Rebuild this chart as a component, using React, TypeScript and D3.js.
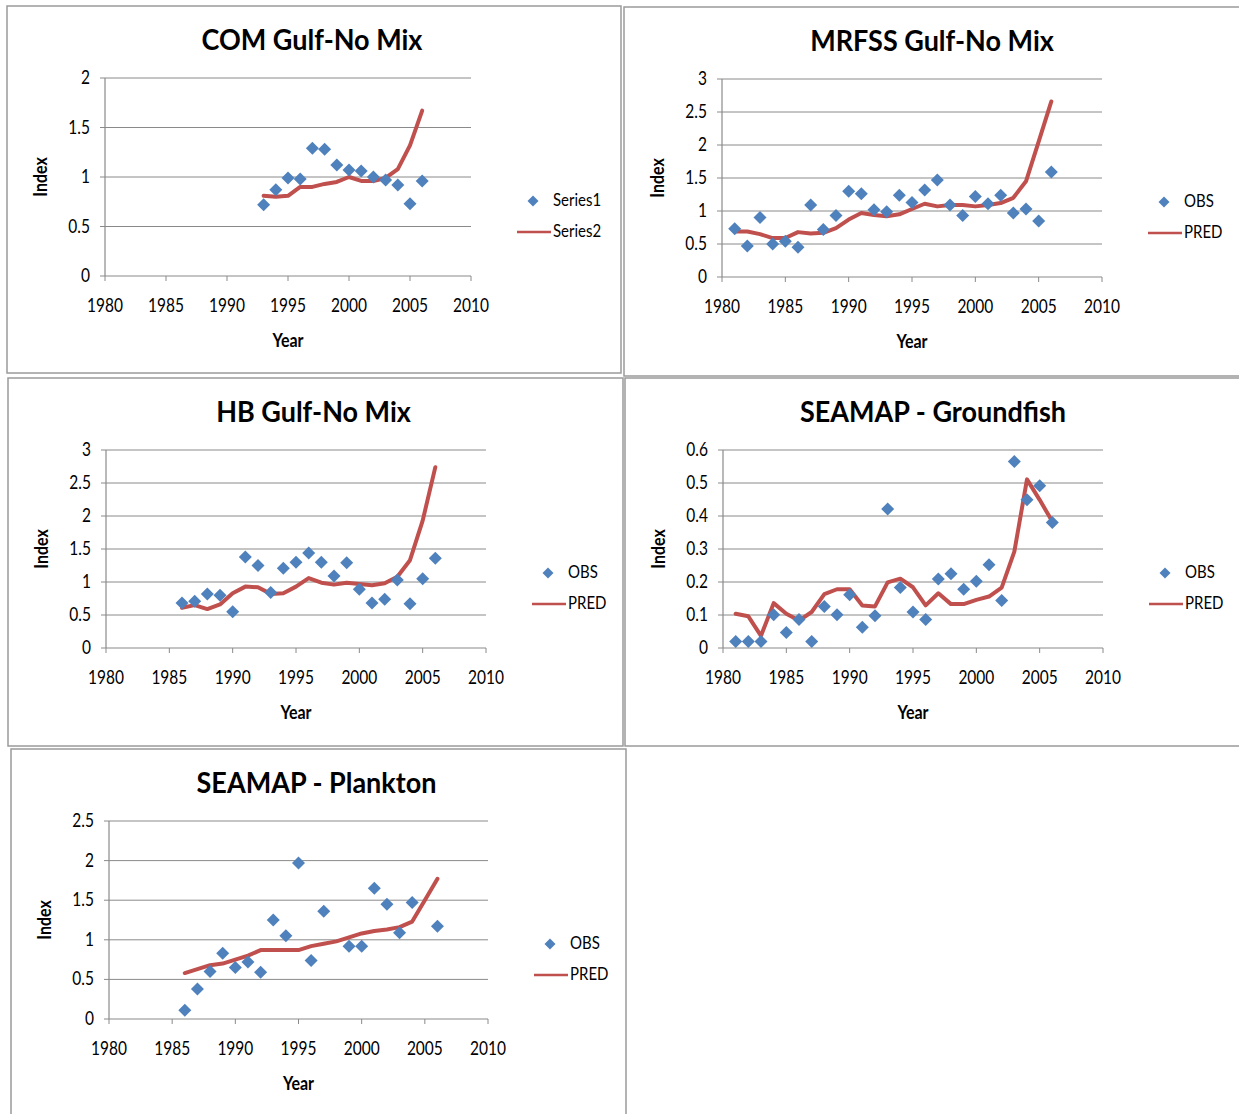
import React from "react";
import * as d3 from "d3";

// ---- data ----
const xTicks = [1980, 1985, 1990, 1995, 2000, 2005, 2010];

const comYears = [1993, 1994, 1995, 1996, 1997, 1998, 1999, 2000, 2001, 2002, 2003, 2004, 2005, 2006];
const comObs = [0.72, 0.87, 0.99, 0.98, 1.29, 1.28, 1.12, 1.07, 1.06, 1.0, 0.97, 0.92, 0.73, 0.96];
const comPred = [0.81, 0.8, 0.81, 0.9, 0.9, 0.93, 0.95, 1.0, 0.96, 0.96, 0.99, 1.08, 1.32, 1.67];
const comTicks = [0, 0.5, 1, 1.5, 2];

const mrfssYears = [1981, 1982, 1983, 1984, 1985, 1986, 1987, 1988, 1989, 1990, 1991, 1992, 1993, 1994, 1995, 1996, 1997, 1998, 1999, 2000, 2001, 2002, 2003, 2004, 2005, 2006];
const mrfssObs = [0.73, 0.47, 0.9, 0.5, 0.54, 0.45, 1.09, 0.72, 0.93, 1.3, 1.26, 1.02, 0.99, 1.24, 1.13, 1.32, 1.47, 1.09, 0.93, 1.22, 1.11, 1.24, 0.97, 1.03, 0.85, 1.59];
const mrfssPred = [0.69, 0.69, 0.65, 0.59, 0.59, 0.68, 0.66, 0.67, 0.74, 0.87, 0.97, 0.94, 0.92, 0.95, 1.03, 1.11, 1.07, 1.09, 1.09, 1.07, 1.09, 1.12, 1.2, 1.45, 2.05, 2.66];
const mrfssTicks = [0, 0.5, 1, 1.5, 2, 2.5, 3];

const hbYears = [1986, 1987, 1988, 1989, 1990, 1991, 1992, 1993, 1994, 1995, 1996, 1997, 1998, 1999, 2000, 2001, 2002, 2003, 2004, 2005, 2006];
const hbObs = [0.68, 0.71, 0.82, 0.8, 0.55, 1.38, 1.25, 0.84, 1.21, 1.3, 1.44, 1.3, 1.09, 1.29, 0.89, 0.68, 0.74, 1.03, 0.67, 1.05, 1.36];
const hbPred = [0.61, 0.65, 0.59, 0.66, 0.83, 0.93, 0.92, 0.82, 0.83, 0.93, 1.06, 0.99, 0.96, 0.99, 0.97, 0.95, 0.98, 1.08, 1.33, 1.93, 2.74];
const hbTicks = [0, 0.5, 1, 1.5, 2, 2.5, 3];

const groundYears = [1981, 1982, 1983, 1984, 1985, 1986, 1987, 1988, 1989, 1990, 1991, 1992, 1993, 1994, 1995, 1996, 1997, 1998, 1999, 2000, 2001, 2002, 2003, 2004, 2005, 2006];
const groundObs = [0.02, 0.02, 0.02, 0.101, 0.047, 0.086, 0.02, 0.126, 0.101, 0.161, 0.063, 0.098, 0.421, 0.183, 0.109, 0.086, 0.209, 0.225, 0.178, 0.202, 0.252, 0.144, 0.565, 0.449, 0.492, 0.38];
const groundPred = [0.104, 0.096, 0.037, 0.136, 0.104, 0.083, 0.109, 0.163, 0.178, 0.178, 0.129, 0.126, 0.199, 0.21, 0.184, 0.129, 0.166, 0.133, 0.133, 0.146, 0.156, 0.183, 0.292, 0.511, 0.449, 0.383];
const groundTicks = [0, 0.1, 0.2, 0.3, 0.4, 0.5, 0.6];

const planktonObsYears = [1986, 1987, 1988, 1989, 1990, 1991, 1992, 1993, 1994, 1995, 1996, 1997, 1999, 2000, 2001, 2002, 2003, 2004, 2006];
const planktonObs = [0.11, 0.38, 0.6, 0.83, 0.65, 0.72, 0.59, 1.25, 1.05, 1.97, 0.74, 1.36, 0.92, 0.92, 1.65, 1.45, 1.09, 1.47, 1.17];
const planktonPredYears = [1986, 1987, 1988, 1989, 1990, 1991, 1992, 1993, 1994, 1995, 1996, 1997, 1998, 1999, 2000, 2001, 2002, 2003, 2004, 2005, 2006];
const planktonPred = [0.58, 0.63, 0.68, 0.7, 0.75, 0.8, 0.87, 0.87, 0.87, 0.87, 0.92, 0.95, 0.98, 1.03, 1.08, 1.11, 1.13, 1.16, 1.23, 1.5, 1.77];
const planktonTicks = [0, 0.5, 1, 1.5, 2, 2.5];

// ---- layout ----
const FONT = "Lato, 'Open Sans', sans-serif";
const BLUE = "#4f81bd";
const RED = "#c0504d";
const GRID = "#8a8a8a";
const STRETCH = 1.18; // the reference text looks a little tall

interface PanelDef {
  title: string;
  x: number;
  y: number;
  w: number;
  h: number;
  plotW: number;
  yTicks: number[];
  obsYears: number[];
  obs: number[];
  predYears: number[];
  pred: number[];
  obsName: string;
  predName: string;
}

const panels: PanelDef[] = [
  { title: "COM Gulf-No Mix", x: 7, y: 6, w: 614, h: 367, plotW: 366, yTicks: comTicks, obsYears: comYears, obs: comObs, predYears: comYears, pred: comPred, obsName: "Series1", predName: "Series2" },
  { title: "MRFSS Gulf-No Mix", x: 624, y: 7, w: 620, h: 369, plotW: 380, yTicks: mrfssTicks, obsYears: mrfssYears, obs: mrfssObs, predYears: mrfssYears, pred: mrfssPred, obsName: "OBS", predName: "PRED" },
  { title: "HB Gulf-No Mix", x: 8, y: 378, w: 615, h: 368, plotW: 380, yTicks: hbTicks, obsYears: hbYears, obs: hbObs, predYears: hbYears, pred: hbPred, obsName: "OBS", predName: "PRED" },
  { title: "SEAMAP - Groundfish", x: 625, y: 378, w: 620, h: 368, plotW: 380, yTicks: groundTicks, obsYears: groundYears, obs: groundObs, predYears: groundYears, pred: groundPred, obsName: "OBS", predName: "PRED" },
  { title: "SEAMAP - Plankton", x: 11, y: 749, w: 615, h: 370, plotW: 379, yTicks: planktonTicks, obsYears: planktonObsYears, obs: planktonObs, predYears: planktonPredYears, pred: planktonPred, obsName: "OBS", predName: "PRED" },
];

const PLOT_LEFT = 98;
const PLOT_TOP = 72;
const PLOT_H = 198;

const diamond = (cx: number, cy: number, r: number) =>
  `M${cx},${cy - r}L${cx + r},${cy}L${cx},${cy + r}L${cx - r},${cy}Z`;

// small text, stretched a bit vertically around its baseline
const Label: React.FC<{ x: number; y: number; anchor?: string; size: number; bold?: boolean; children: React.ReactNode }> = ({ x, y, anchor = "start", size, bold, children }) => (
  <text
    transform={`translate(${x},${y}) scale(1,${STRETCH})`}
    textAnchor={anchor}
    fontFamily={FONT}
    fontWeight={bold ? "bold" : "normal"}
    fontSize={size}
    fill="#000"
  >
    {children}
  </text>
);

const Panel: React.FC<{ p: PanelDef }> = ({ p }) => {
  const left = p.x + PLOT_LEFT;
  const top = p.y + PLOT_TOP;
  const right = left + p.plotW;
  const bottom = top + PLOT_H;
  const yMax = p.yTicks[p.yTicks.length - 1];

  const xScale = d3.scaleLinear().domain([1980, 2010]).range([left, right]);
  const yScale = d3.scaleLinear().domain([0, yMax]).range([bottom, top]);

  const line = d3
    .line<number>()
    .x((_, i) => xScale(p.predYears[i]))
    .y((d) => yScale(d));

  return (
    <g>
      <rect x={p.x} y={p.y} width={p.w} height={p.h} fill="#fff" stroke="#9a9a9a" strokeWidth={1.5} />
      <text
        transform={`translate(${p.x + p.w / 2 - 2},${p.y + 44}) scale(1,1.08)`}
        textAnchor="middle"
        fontFamily={FONT}
        fontWeight="bold"
        fontSize={27}
        fill="#000"
      >
        {p.title}
      </text>

      {/* grid lines */}
      {p.yTicks.filter((t) => t > 0).map((t) => (
        <line key={"g" + t} x1={left} x2={right} y1={yScale(t)} y2={yScale(t)} stroke={GRID} strokeWidth={1} />
      ))}

      {/* axes */}
      <line x1={left} x2={left} y1={top} y2={bottom} stroke={GRID} strokeWidth={1.2} />
      <line x1={left} x2={right} y1={bottom} y2={bottom} stroke={GRID} strokeWidth={1.2} />
      {p.yTicks.map((t) => (
        <g key={"y" + t}>
          <line x1={left - 5} x2={left} y1={yScale(t)} y2={yScale(t)} stroke={GRID} />
          <Label x={left - 15} y={yScale(t) + 6} anchor="end" size={15.5}>
            {d3.format("")(t)}
          </Label>
        </g>
      ))}
      {xTicks.map((t) => (
        <g key={"x" + t}>
          <line x1={xScale(t)} x2={xScale(t)} y1={bottom} y2={bottom + 5} stroke={GRID} />
          <Label x={xScale(t)} y={bottom + 36} anchor="middle" size={15.5}>
            {t}
          </Label>
        </g>
      ))}
      <Label x={(left + right) / 2} y={bottom + 71} anchor="middle" size={16} bold>
        Year
      </Label>
      <text
        transform={`translate(${left - 58},${(top + bottom) / 2}) rotate(-90) scale(1,${STRETCH})`}
        textAnchor="middle"
        fontFamily={FONT}
        fontWeight="bold"
        fontSize={16}
        fill="#000"
      >
        Index
      </text>

      {/* series */}
      <path d={line(p.pred) || ""} fill="none" stroke={RED} strokeWidth={4} strokeLinejoin="round" strokeLinecap="round" />
      {p.obs.map((v, i) => (
        <path key={"o" + i} d={diamond(xScale(p.obsYears[i]), yScale(v), 6.5)} fill={BLUE} />
      ))}

      {/* legend */}
      <path d={diamond(right + 62, top + 123, 5.5)} fill={BLUE} />
      <Label x={right + 82} y={top + 128} size={15}>
        {p.obsName}
      </Label>
      <line x1={right + 46} x2={right + 80} y1={top + 154} y2={top + 154} stroke={RED} strokeWidth={2.5} />
      <Label x={right + 82} y={top + 159} size={15}>
        {p.predName}
      </Label>
    </g>
  );
};

export default function App() {
  return (
    <svg width={1239} height={1114} style={{ position: "absolute", left: 0, top: 0, background: "#fff" }}>
      <rect x={0} y={0} width={1239} height={1114} fill="#fff" />
      {panels.map((p) => (
        <Panel key={p.title} p={p} />
      ))}
    </svg>
  );
}
